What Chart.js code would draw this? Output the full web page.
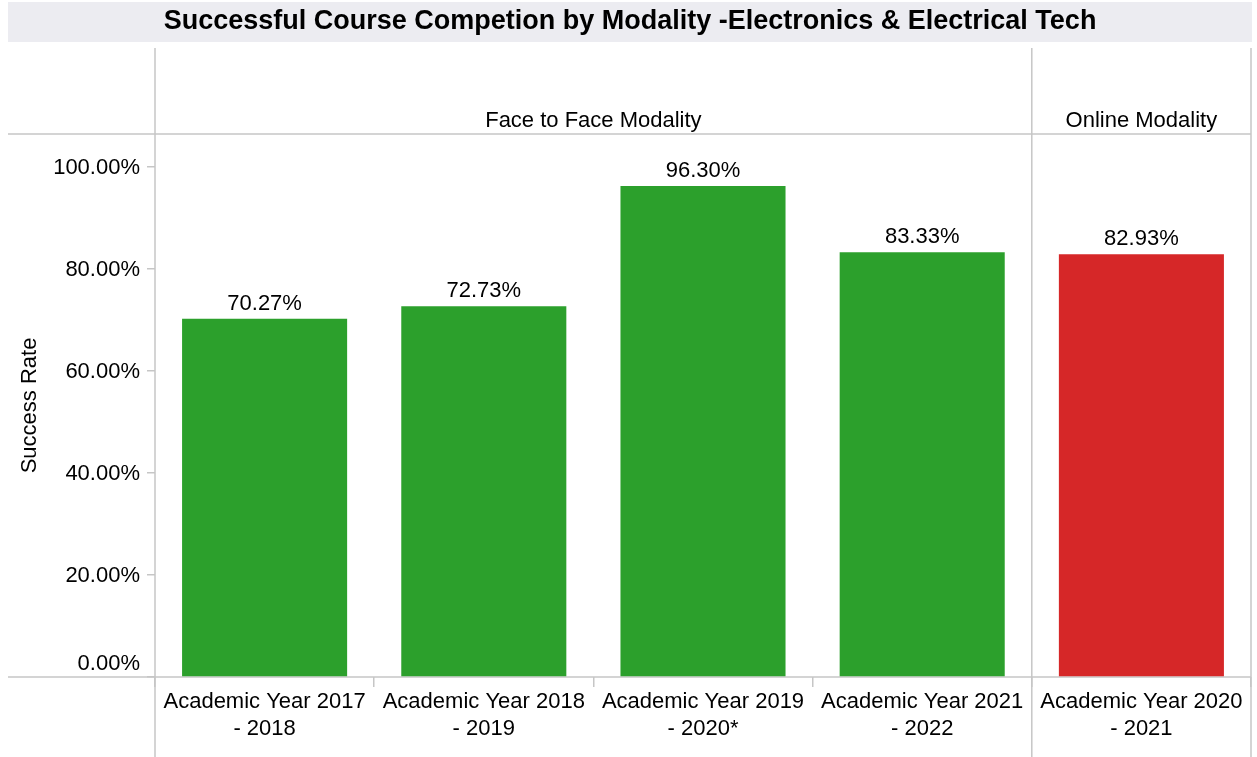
<!DOCTYPE html>
<html>
<head>
<meta charset="utf-8">
<title>Successful Course Completion by Modality</title>
<script src="https://cdn.jsdelivr.net/npm/chart.js@4.4.1/dist/chart.umd.min.js"></script>
<style>
  html, body { margin: 0; padding: 0; background: #fff; }
  #wrap { width: 1257px; height: 757px; }
</style>
</head>
<body>
<div id="wrap"><canvas id="chart"></canvas></div>
<script>
const categories = [
  ['Academic Year 2017', '- 2018'],
  ['Academic Year 2018', '- 2019'],
  ['Academic Year 2019', '- 2020*'],
  ['Academic Year 2021', '- 2022'],
  ['Academic Year 2020', '- 2021']
];
const modality = [
  'Face to Face Modality',
  'Face to Face Modality',
  'Face to Face Modality',
  'Face to Face Modality',
  'Online Modality'
];
const successRate = [70.27, 72.73, 96.30, 83.33, 82.93];
const yTicks = [0, 20, 40, 60, 80, 100];
const modalityColors = { 'Face to Face Modality': '#2ca02c', 'Online Modality': '#d62728' };

const chartTitle = 'Successful Course Competion by Modality -Electronics & Electrical Tech';
const FONT = "'Liberation Sans', Arial, Helvetica, sans-serif";
const LINE = '#c6c6c6';

// consecutive runs of the same modality -> one panel each
function panelGroups() {
  const groups = [];
  modality.forEach((m, i) => {
    const last = groups[groups.length - 1];
    if (last && last.name === m) last.end = i;
    else groups.push({ name: m, start: i, end: i });
  });
  return groups;
}

const pct = v => v.toFixed(2) + '%';

const panels = {
  id: 'panels',
  beforeDraw(chart) {
    const { ctx, width } = chart;
    ctx.save();
    ctx.fillStyle = '#ececf1';
    ctx.fillRect(8, 2, width - 13, 40);
    ctx.fillStyle = '#000';
    ctx.font = 'bold 27px ' + FONT;
    ctx.textAlign = 'center';
    ctx.textBaseline = 'middle';
    ctx.fillText(chartTitle, (8 + width - 5) / 2, 22);
    ctx.restore();
  },
  beforeDatasetsDraw(chart) {
    const { ctx, chartArea: area, height } = chart;
    const x = chart.scales.x;
    ctx.save();
    ctx.strokeStyle = LINE;
    ctx.lineWidth = 1.5;
    ctx.beginPath();
    ctx.moveTo(8, area.top); ctx.lineTo(area.right, area.top);
    ctx.moveTo(8, area.bottom); ctx.lineTo(area.right, area.bottom);
    const edges = [area.left];
    panelGroups().forEach(g => {
      edges.push(g.end === categories.length - 1
        ? area.right
        : (x.getPixelForValue(g.end) + x.getPixelForValue(g.end + 1)) / 2);
    });
    edges.forEach(e => { ctx.moveTo(e, 48); ctx.lineTo(e, height); });
    ctx.stroke();

    // panel headers
    ctx.fillStyle = '#000';
    ctx.font = '22px ' + FONT;
    ctx.textAlign = 'center';
    ctx.textBaseline = 'middle';
    panelGroups().forEach((g, i) => {
      ctx.fillText(g.name, (edges[i] + edges[i + 1]) / 2, 121);
    });

    // value axis labels, the bottom one lifted inside the pane
    const y = chart.scales.y;
    ctx.textAlign = 'right';
    yTicks.forEach(v => {
      const py = Math.min(y.getPixelForValue(v), area.bottom - 14);
      ctx.fillText(pct(v), 140, py + 1);
    });
    ctx.restore();
  },
  afterDatasetsDraw(chart) {
    const { ctx } = chart;
    const meta = chart.getDatasetMeta(0);
    ctx.save();
    ctx.fillStyle = '#000';
    ctx.font = '22px ' + FONT;
    ctx.textAlign = 'center';
    ctx.textBaseline = 'alphabetic';
    meta.data.forEach((bar, i) => {
      ctx.fillText(pct(successRate[i]), bar.x, bar.y - 9);
    });
    ctx.restore();
  }
};

new Chart(document.getElementById('chart'), {
  type: 'bar',
  data: {
    labels: categories,
    datasets: [{
      label: 'Success Rate',
      data: successRate,
      backgroundColor: modality.map(m => modalityColors[m]),
      barPercentage: 0.753,
      categoryPercentage: 1
    }]
  },
  options: {
    responsive: true,
    maintainAspectRatio: false,
    animation: false,
    layout: { padding: { top: 134, right: 6, left: 0, bottom: 0 } },
    plugins: { legend: { display: false }, tooltip: { enabled: false } },
    scales: {
      x: {
        afterFit(scale) { scale.height = 80; },
        border: { display: false },
        grid: { offset: true, drawOnChartArea: false, tickLength: 10, color: LINE, lineWidth: 1.5 },
        ticks: {
          color: '#000',
          font: { family: FONT, size: 22, lineHeight: 1.2 },
          padding: 2,
          autoSkip: false,
          maxRotation: 0,
          minRotation: 0
        }
      },
      y: {
        min: 0,
        max: 106.5,
        afterFit(scale) { scale.width = 155; },
        afterBuildTicks(axis) { axis.ticks = yTicks.map(v => ({ value: v })); },
        border: { display: false },
        grid: { drawOnChartArea: false, tickLength: 8, color: LINE, lineWidth: 1.5 },
        ticks: { display: false },
        title: {
          display: true,
          text: 'Success Rate',
          color: '#000',
          font: { family: FONT, size: 22 },
          padding: { top: 17, bottom: 0 }
        }
      }
    }
  },
  plugins: [panels]
});
</script>
</body>
</html>
